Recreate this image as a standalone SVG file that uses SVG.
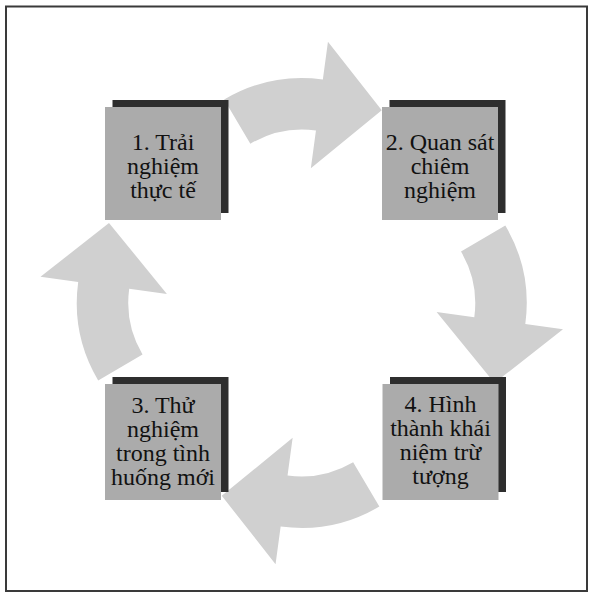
<svg xmlns="http://www.w3.org/2000/svg" width="592" height="596" viewBox="0 0 592 596">
<style>
.frame{fill:#ffffff;stroke:#3a3a3a;stroke-width:2}
.arrow{fill:#d0d0d0;stroke:none}
.shadow{fill:#2e2e2e}
.box{fill:#ababab}
.lbl{font-family:"Liberation Serif","Times New Roman",serif;font-size:24px;fill:#111111;text-anchor:middle}
</style>
<defs>
<path id="arw" d="M98.2,380.6 A153.5,153.5 0 0 1 78.2,281.9 L40.5,276.8 L109,223 L166.9,293.9 L129.2,288.8 A102,102 0 0 0 142.5,354.4 Z"/>
</defs>
<rect class="frame" x="6" y="6.5" width="581" height="584.5"/>
<g id="connectors">
<use href="#arw" class="arrow" transform="rotate(90 301.75 303)"/>
<use href="#arw" class="arrow" transform="rotate(180 301.75 303)"/>
<use href="#arw" class="arrow" transform="rotate(270 301.75 303)"/>
<use href="#arw" class="arrow"/>
</g>
<g id="node1">
<rect class="shadow" x="112.5" y="100" width="116" height="113"/>
<rect class="box" x="105" y="107" width="116" height="113"/>
<text class="lbl"><tspan x="163" y="150">1. Trải</tspan><tspan x="163" y="174">nghiệm</tspan><tspan x="163" y="198">thực tế</tspan></text>
</g>
<g id="node2">
<rect class="shadow" x="389.5" y="100" width="116" height="113"/>
<rect class="box" x="382" y="107" width="116" height="113"/>
<text class="lbl"><tspan x="440" y="150">2. Quan sát</tspan><tspan x="440" y="174">chiêm</tspan><tspan x="440" y="198">nghiệm</tspan></text>
</g>
<g id="node3">
<rect class="shadow" x="112.5" y="377" width="116" height="115"/>
<rect class="box" x="105" y="384" width="116" height="116"/>
<text class="lbl"><tspan x="163" y="413">3. Thử</tspan><tspan x="163" y="437">nghiệm</tspan><tspan x="163" y="461">trong tình</tspan><tspan x="163" y="485">huống mới</tspan></text>
</g>
<g id="node4">
<rect class="shadow" x="390" y="377" width="116" height="115"/>
<rect class="box" x="382.5" y="384" width="116" height="116"/>
<text class="lbl"><tspan x="440.5" y="412">4. Hình</tspan><tspan x="440.5" y="436">thành khái</tspan><tspan x="440.5" y="460">niệm trừ</tspan><tspan x="440.5" y="484">tượng</tspan></text>
</g>
</svg>
